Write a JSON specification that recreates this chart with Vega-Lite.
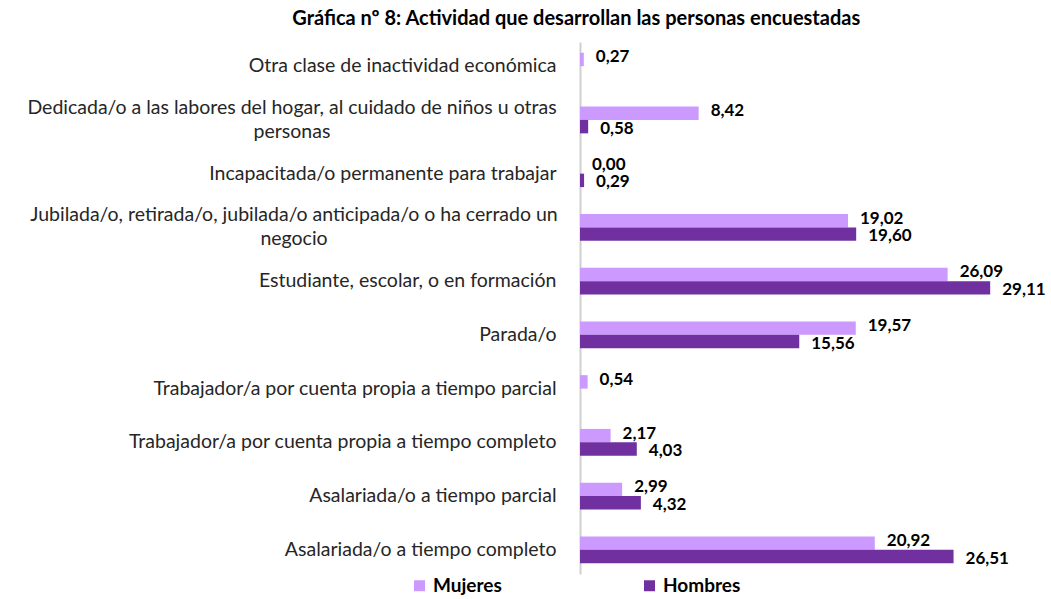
{
  "$schema": "https://vega.github.io/schema/vega-lite/v6.json",
  "width": 465,
  "height": 532,
  "padding": {"left": 26, "top": 9, "right": 5, "bottom": 5},
  "background": "white",
  "title": {
    "text": "Gráfica nº 8: Actividad que desarrollan las personas encuestadas",
    "font": "Lato",
    "fontSize": 20,
    "fontWeight": "bold",
    "color": "#000000",
    "anchor": "middle",
    "frame": "bounds",
    "offset": 13,
    "dx": 40
  },
  "config": {
    "view": {"stroke": null},
    "locale": {"number": {"decimal": ",", "thousands": ".", "grouping": [3], "currency": ["", " €"]}},
    "font": "Lato"
  },
  "data": {
    "values": [
      {"categoria": "Otra clase de inactividad económica", "sexo": "Mujeres", "valor": 0.27},
      {"categoria": "Dedicada/o a las labores del hogar, al cuidado de niños u otras|personas", "sexo": "Mujeres", "valor": 8.42},
      {"categoria": "Dedicada/o a las labores del hogar, al cuidado de niños u otras|personas", "sexo": "Hombres", "valor": 0.58},
      {"categoria": "Incapacitada/o permanente para trabajar", "sexo": "Mujeres", "valor": 0.0},
      {"categoria": "Incapacitada/o permanente para trabajar", "sexo": "Hombres", "valor": 0.29},
      {"categoria": "Jubilada/o, retirada/o, jubilada/o anticipada/o o ha cerrado un|negocio", "sexo": "Mujeres", "valor": 19.02},
      {"categoria": "Jubilada/o, retirada/o, jubilada/o anticipada/o o ha cerrado un|negocio", "sexo": "Hombres", "valor": 19.6},
      {"categoria": "Estudiante, escolar, o en formación", "sexo": "Mujeres", "valor": 26.09},
      {"categoria": "Estudiante, escolar, o en formación", "sexo": "Hombres", "valor": 29.11},
      {"categoria": "Parada/o", "sexo": "Mujeres", "valor": 19.57},
      {"categoria": "Parada/o", "sexo": "Hombres", "valor": 15.56},
      {"categoria": "Trabajador/a por cuenta propia a tiempo parcial", "sexo": "Mujeres", "valor": 0.54},
      {"categoria": "Trabajador/a por cuenta propia a tiempo completo", "sexo": "Mujeres", "valor": 2.17},
      {"categoria": "Trabajador/a por cuenta propia a tiempo completo", "sexo": "Hombres", "valor": 4.03},
      {"categoria": "Asalariada/o a tiempo parcial", "sexo": "Mujeres", "valor": 2.99},
      {"categoria": "Asalariada/o a tiempo parcial", "sexo": "Hombres", "valor": 4.32},
      {"categoria": "Asalariada/o a tiempo completo", "sexo": "Mujeres", "valor": 20.92},
      {"categoria": "Asalariada/o a tiempo completo", "sexo": "Hombres", "valor": 26.51}
    ]
  },
  "encoding": {
    "y": {
      "field": "categoria",
      "type": "nominal",
      "sort": null,
      "scale": {"paddingInner": 0.5},
      "axis": {
        "title": null,
        "labelExpr": "split(datum.label, '|')",
        "labelFont": "Lato",
        "labelFontSize": 19.5,
        "labelColor": "#262626",
        "labelPadding": {"condition": [
          {"test": "indexof(datum.label, 'Dedicada') >= 0", "value": 288.5},
          {"test": "indexof(datum.label, 'Jubilada') >= 0", "value": 286.5}
        ], "value": 24},
        "labelAlign": {"condition": {"test": "indexof(datum.label, '|') >= 0", "value": "center"}, "value": "right"},
        "labelLimit": 800,
        "labelLineHeight": 24,
        "labelOffset": {"condition": {"test": "indexof(datum.label, '|') >= 0", "value": -12}, "value": 0},
        "ticks": false,
        "domainColor": "#d0d0d0",
        "domainWidth": 2
      }
    },
    "yOffset": {"field": "sexo", "type": "nominal", "sort": ["Mujeres", "Hombres"]},
    "x": {
      "field": "valor",
      "type": "quantitative",
      "scale": {"domain": [0, 33], "nice": false},
      "axis": null
    }
  },
  "layer": [
    {
      "mark": {"type": "bar"},
      "encoding": {
        "color": {
          "field": "sexo",
          "type": "nominal",
          "scale": {"domain": ["Mujeres", "Hombres"], "range": ["#cc99ff", "#7030a0"]},
          "legend": {
            "title": null,
            "orient": "none",
            "legendX": -170,
            "legendY": 534,
            "direction": "horizontal",
            "symbolType": "square",
            "symbolSize": 121,
            "symbolStrokeWidth": 0,
            "labelFont": "Lato",
            "labelFontSize": 19,
            "labelFontWeight": "bold",
            "labelColor": "#000000",
            "columnPadding": 138,
            "padding": 0
          }
        }
      }
    },
    {
      "transform": [{"filter": "datum.sexo === 'Mujeres'"}],
      "mark": {"type": "text", "align": "left", "baseline": "middle", "dx": 12, "dy": -2, "fontWeight": "bold", "fontSize": 17, "font": "Lato", "color": "#000000"},
      "encoding": {
        "text": {"field": "valor", "type": "quantitative", "format": ".2f"}
      }
    },
    {
      "transform": [{"filter": "datum.sexo === 'Hombres'"}],
      "mark": {"type": "text", "align": "left", "baseline": "middle", "dx": 12, "dy": 2, "fontWeight": "bold", "fontSize": 17, "font": "Lato", "color": "#000000"},
      "encoding": {
        "text": {"field": "valor", "type": "quantitative", "format": ".2f"}
      }
    }
  ]
}
